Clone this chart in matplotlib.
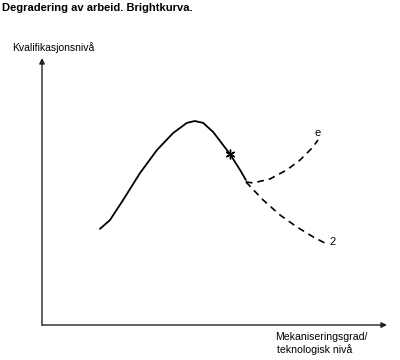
import numpy as np
import matplotlib.pyplot as plt

plt.rcParams['font.family'] = ['Liberation Sans', 'DejaVu Sans']

# heltrukken kurve (mekanisering -> kvalifikasjon)
x_main = [1.68, 1.97, 2.35, 2.84, 3.33, 3.80, 4.20, 4.43, 4.67, 4.96, 5.25, 5.45, 5.74, 5.91]
y_main = [3.60, 3.93, 4.68, 5.69, 6.55, 7.19, 7.57, 7.64, 7.57, 7.23, 6.74, 6.40, 5.81, 5.43]

# alternativ e (stigende)
x_up = [5.91, 6.12, 6.61, 7.10, 7.48, 7.83, 8.00]
y_up = [5.36, 5.32, 5.47, 5.81, 6.18, 6.63, 6.93]

# alternativ 2 (fallende)
x_down = [5.91, 6.41, 6.90, 7.39, 7.86, 8.20]
y_down = [5.36, 4.68, 4.12, 3.67, 3.30, 3.07]

star_x, star_y = 5.45, 6.40

fig = plt.figure(figsize=(4, 3.6), dpi=100)
ax = fig.add_axes([0.105, 0.0972, 0.8625, 0.7417])
ax.set_xlim(0, 10)
ax.set_ylim(0, 10)
ax.axis('off')

# akser med piler
arr = dict(arrowstyle='-|>', color='#222222', lw=1.0, mutation_scale=8, shrinkA=0, shrinkB=0)
ax.annotate('', xy=(0, 10), xytext=(0, 0), arrowprops=arr, annotation_clip=False)
ax.annotate('', xy=(10, 0), xytext=(0, 0), arrowprops=arr, annotation_clip=False)

ax.plot(x_main, y_main, color='black', lw=1.3, solid_capstyle='round')
ax.plot(x_up, y_up, color='black', lw=1.2, ls=(0, (4, 3)))
ax.plot(x_down, y_down, color='black', lw=1.2, ls=(0, (4, 3)))
ax.plot(star_x, star_y, marker=(6, 2, 0), color='black', ms=7, mew=1.0)

ax.text(8.00, 7.19, 'e', fontsize=8, ha='center', va='center')
ax.text(8.43, 3.11, '2', fontsize=8, ha='center', va='center')

fig.text(0.005, 0.978, 'Degradering av arbeid. Brightkurva.', fontsize=8,
         fontweight='bold', ha='left', va='center')
fig.text(0.03, 0.867, 'Kvalifikasjonsnivå', fontsize=7.5, ha='left', va='center')
fig.text(0.687, 0.065, 'Mekaniseringsgrad/', fontsize=7.6, ha='left', va='center')
fig.text(0.692, 0.029, 'teknologisk nivå', fontsize=7.6, ha='left', va='center')

fig.savefig('out.png', dpi=100)
